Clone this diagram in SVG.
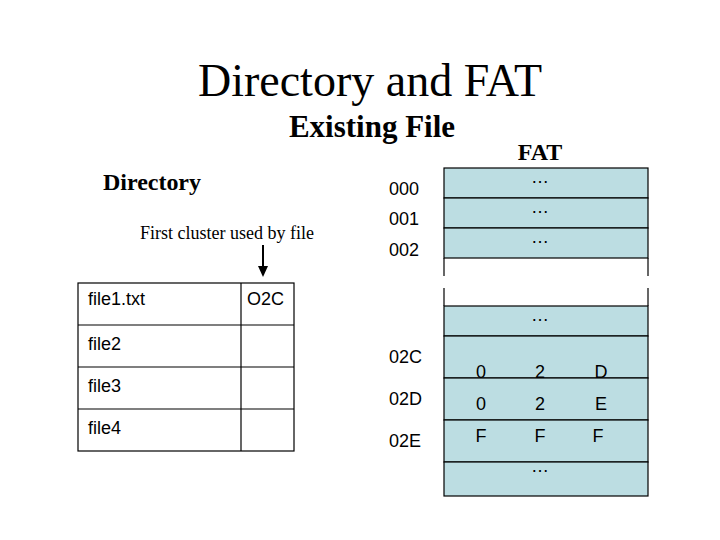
<svg xmlns="http://www.w3.org/2000/svg" width="720" height="540" viewBox="0 0 720 540">
<style>
.s{font-family:"Liberation Serif",serif;fill:#000}
.a{font-family:"Liberation Sans",Arial,sans-serif;font-size:18px;fill:#000}
.f{fill:#bcdde2;stroke:#000;stroke-width:1.2}
.l{stroke:#000;stroke-width:1.2;fill:none}
</style>
<text class="s" x="370" y="96" font-size="46" text-anchor="middle">Directory and FAT</text>
<text class="s" x="372" y="137" font-size="31" font-weight="bold" text-anchor="middle">Existing File</text>
<text class="s" x="540" y="160" font-size="24" font-weight="bold" text-anchor="middle">FAT</text>
<text class="s" x="103" y="190" font-size="24" font-weight="bold" textLength="98">Directory</text>
<g id="directory">
<text class="s" x="227" y="239" font-size="18" text-anchor="middle">First cluster used by file</text>
<rect class="l" x="78" y="283" width="216" height="168"/>
<line class="l" x1="241" y1="283" x2="241" y2="451"/>
<line class="l" x1="78" y1="325" x2="294" y2="325"/>
<line class="l" x1="78" y1="367" x2="294" y2="367"/>
<line class="l" x1="78" y1="409" x2="294" y2="409"/>
<text class="a" x="88" y="305">file1.txt</text>
<text class="a" x="247" y="305">O2C</text>
<text class="a" x="88" y="350">file2</text>
<text class="a" x="88" y="392">file3</text>
<text class="a" x="88" y="434">file4</text>
</g>
<g id="connectors">
<line x1="263" y1="245" x2="263" y2="268" stroke="#000" stroke-width="2"/>
<path d="M258,266 L268,266 L263,277 Z" fill="#000"/>
</g>
<g id="fat">
<rect class="f" x="444" y="168" width="204" height="30"/>
<rect class="f" x="444" y="198" width="204" height="30"/>
<rect class="f" x="444" y="228" width="204" height="30"/>
<line class="l" x1="444" y1="258" x2="444" y2="276"/>
<line class="l" x1="648" y1="258" x2="648" y2="276"/>
<line class="l" x1="444" y1="288" x2="444" y2="306"/>
<line class="l" x1="648" y1="288" x2="648" y2="306"/>
<rect class="f" x="444" y="306" width="204" height="30"/>
<rect class="f" x="444" y="336" width="204" height="42"/>
<rect class="f" x="444" y="378" width="204" height="42"/>
<rect class="f" x="444" y="420" width="204" height="42"/>
<rect class="f" x="444" y="462" width="204" height="34"/>
<g class="a" text-anchor="middle">
<text x="540" y="183">…</text>
<text x="540" y="213">…</text>
<text x="540" y="243">…</text>
<text x="540" y="321">…</text>
<text x="540" y="472">…</text>
<text x="481" y="378">0</text><text x="540" y="378">2</text><text x="601" y="378">D</text>
<text x="481" y="410">0</text><text x="540" y="410">2</text><text x="601" y="410">E</text>
<text x="481" y="442">F</text><text x="540" y="442">F</text><text x="598" y="442">F</text>
</g>
<text class="a" x="389" y="195">000</text>
<text class="a" x="389" y="225">001</text>
<text class="a" x="389" y="256">002</text>
<text class="a" x="389" y="363">02C</text>
<text class="a" x="389" y="405">02D</text>
<text class="a" x="389" y="447">02E</text>
</g>
</svg>
